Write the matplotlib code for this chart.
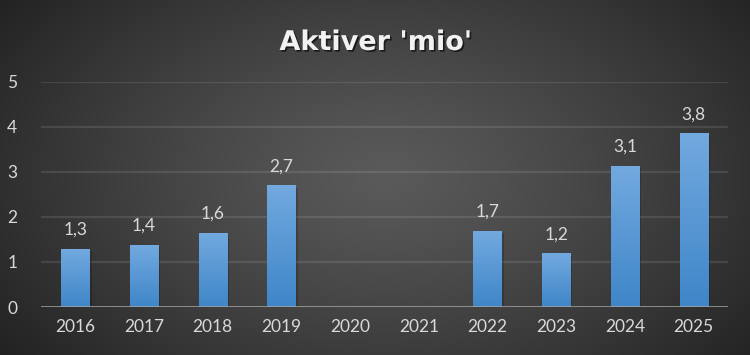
import numpy as np
import matplotlib
matplotlib.use('Agg')
import matplotlib.pyplot as plt
from matplotlib import patheffects as pe
from matplotlib.colors import LinearSegmentedColormap

years = ['2016', '2017', '2018', '2019', '2020', '2021', '2022', '2023', '2024', '2025']
values = [1.28, 1.37, 1.64, 2.69, np.nan, np.nan, 1.68, 1.18, 3.13, 3.85]
value_labels = ['1,3', '1,4', '1,6', '2,7', '', '', '1,7', '1,2', '3,1', '3,8']
yticks = [0, 1, 2, 3, 4, 5]
title = "Aktiver 'mio'"

plt.rcParams['font.family'] = ['Lato', 'DejaVu Sans']

W, H = 750, 355
fig = plt.figure(figsize=(W / 100, H / 100), dpi=100)

# radial gradient background
bg = fig.add_axes([0, 0, 1, 1])
bg.set_axis_off()
yy, xx = np.mgrid[0:H, 0:W]
r = np.sqrt(((xx - 385) / 480.0) ** 2 + ((yy - 175) / 300.0) ** 2)
r = np.clip(r, 0, 1)
c_in = np.array([0x5a, 0x5a, 0x5a]) / 255.0
c_out = np.array([0x22, 0x22, 0x22]) / 255.0
img = c_in[None, None, :] * (1 - r[..., None] ** 1.2) + c_out[None, None, :] * (r[..., None] ** 1.2)
bg.imshow(img, extent=[0, 1, 0, 1], aspect='auto', origin='upper')
bg.set_xlim(0, 1)
bg.set_ylim(0, 1)

ax = fig.add_axes([41 / W, 1 - 307 / H, (728 - 41) / W, (307 - 82) / H])
ax.patch.set_alpha(0)
x = np.arange(len(years))
ax.set_xlim(-0.5, len(years) - 0.5)
ax.set_ylim(0, 5)

bar_w = 0.41
heights = np.nan_to_num(np.array(values, dtype=float))
bars = ax.bar(x, heights, width=bar_w, color='#5b9bd5', zorder=3,
              path_effects=[pe.SimplePatchShadow(offset=(1.5, -1.5), shadow_rgbFace='black', alpha=0.18), pe.Normal()])

cmap = LinearSegmentedColormap.from_list('bar', ['#3f86c8', '#72a9df'])
grad = np.linspace(0, 1, 100).reshape(-1, 1)
for xi, h in zip(x, heights):
    if h > 0:
        ax.imshow(grad, cmap=cmap, origin='lower', aspect='auto',
                  extent=[xi - bar_w / 2, xi + bar_w / 2, 0, h], zorder=4)
ax.set_xlim(-0.5, len(years) - 0.5)
ax.set_ylim(0, 5)

for xi, h, lab in zip(x, heights, value_labels):
    if lab:
        ax.annotate(lab, (xi, h), xytext=(0, 14), textcoords='offset points',
                    ha='center', va='center', color='#d9d9d9', fontsize=12.5, zorder=5)

ax.set_yticks(yticks)
ax.set_yticklabels([str(t) for t in yticks])
ax.set_xticks(x)
ax.set_xticklabels(years)
ax.tick_params(axis='both', length=0, colors='#d9d9d9', labelsize=12.5)
ax.tick_params(axis='y', pad=17)
ax.tick_params(axis='x', pad=9)
for s in ax.spines.values():
    s.set_visible(False)
for t in yticks[1:]:
    ax.axhline(t, color='white', alpha=0.1, lw=1.6, zorder=1)
ax.axhline(0, color='#a6a6a6', lw=1.8, zorder=5)

fig.text(376 / W, 1 - 43 / H, title, ha='center', va='center', color='#f2f2f2',
         fontsize=19.5, fontweight='bold', family=['DejaVu Sans'],
         path_effects=[pe.withSimplePatchShadow(offset=(1.2, -1.2), shadow_rgbFace='black', alpha=0.6)])

fig.savefig('out.png', dpi=100)
